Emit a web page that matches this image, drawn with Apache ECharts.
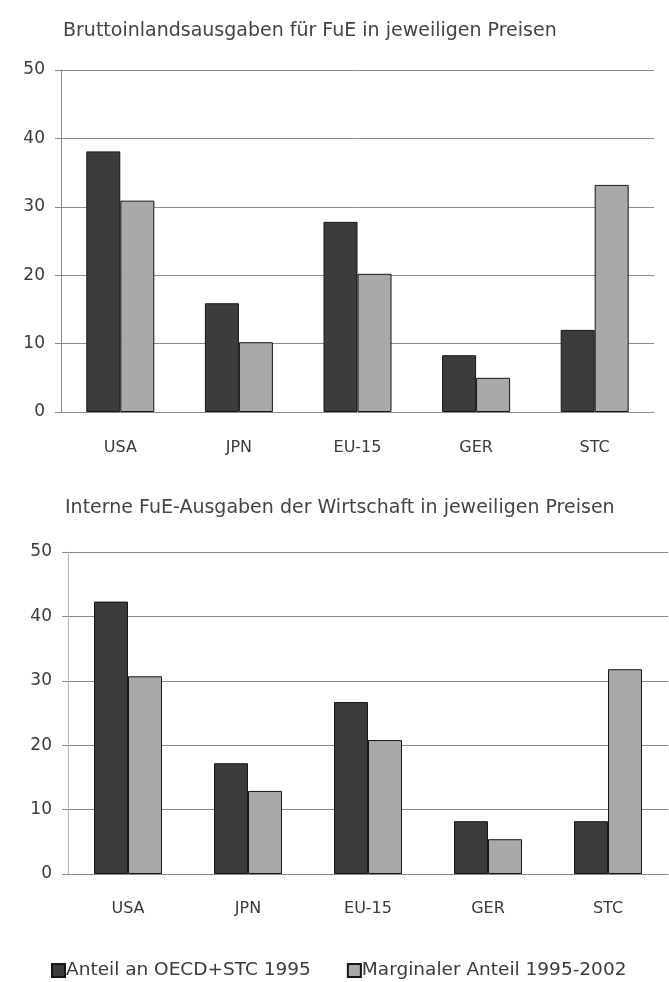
<!DOCTYPE html>
<html>
<head>
<meta charset="utf-8">
<script src="https://cdn.jsdelivr.net/npm/echarts@6/dist/echarts.min.js"></script>
<style>
html,body{margin:0;padding:0;background:#fff;}
#c{width:669px;height:982px;}
</style>
</head>
<body>
<div id="c"></div>
<script>
const categories = ['USA', 'JPN', 'EU-15', 'GER', 'STC'];
const titleTop = 'Bruttoinlandsausgaben für FuE in jeweiligen Preisen';
const titleBottom = 'Interne FuE-Ausgaben der Wirtschaft in jeweiligen Preisen';
const seriesNames = ['Anteil an OECD+STC 1995', 'Marginaler Anteil 1995-2002'];
const topShare1995 = [38.1, 15.9, 27.8, 8.3, 12.0];
const topMarginal = [30.9, 10.2, 20.2, 5.0, 33.2];
const bottomShare1995 = [42.3, 17.2, 26.7, 8.2, 8.2];
const bottomMarginal = [30.7, 12.9, 20.8, 5.4, 31.8];
const yTicksMin = 0, yTicksMax = 50, yTicksStep = 10;

const FONT = '"DejaVu Sans", "Liberation Sans", Arial, sans-serif';
const TXT = '#3a3a3a';
const DARK = '#3c3c3c';
const LIGHT = '#a9a9a9';
const GRIDC = '#8a8a8a';

function xAxis(gi, margin) {
  return {
    type: 'category', gridIndex: gi, data: categories,
    axisLine: { show: true, lineStyle: { color: GRIDC, width: 1 } },
    axisTick: { show: false },
    axisLabel: { color: TXT, fontFamily: FONT, fontSize: 16, margin: margin }
  };
}
function yAxis(gi, lineColor) {
  return {
    type: 'value', gridIndex: gi, min: yTicksMin, max: yTicksMax, interval: yTicksStep,
    axisLine: { show: true, lineStyle: { color: lineColor, width: 1 } },
    axisTick: { show: true, length: 6, lineStyle: { color: GRIDC } },
    splitLine: { show: true, lineStyle: { color: GRIDC, width: 1 } },
    axisLabel: { color: TXT, fontFamily: FONT, fontSize: 17, margin: 16 }
  };
}
function bar(name, data, gi, color) {
  return {
    name: name, type: 'bar', xAxisIndex: gi, yAxisIndex: gi, data: data,
    barWidth: 34, barGap: '0%',
    itemStyle: { color: color, borderColor: '#151515', borderWidth: 1 },
    animation: false
  };
}

const chart = echarts.init(document.getElementById('c'), null, { renderer: 'canvas' });
chart.setOption({
  backgroundColor: '#fff',
  animation: false,
  title: [
    { text: titleTop, left: 58, top: 17, textStyle: { color: '#444', fontFamily: FONT, fontSize: 19, fontWeight: 'normal' } },
    { text: titleBottom, left: 60, top: 494, textStyle: { color: '#444', fontFamily: FONT, fontSize: 19, fontWeight: 'normal' } }
  ],
  legend: {
    top: 956, left: 46,
    itemWidth: 13, itemHeight: 13, itemGap: 36,
    icon: 'rect',
    textStyle: { color: TXT, fontFamily: FONT, fontSize: 18.5, padding: [0, 0, 0, -4] },
    data: seriesNames
  },
  grid: [
    { left: 61, right: 15, top: 70, bottom: 570, containLabel: false },
    { left: 68, right: 1, top: 552, bottom: 108, containLabel: false }
  ],
  xAxis: [xAxis(0, 28), xAxis(1, 27)],
  yAxis: [yAxis(0, '#8a8a8a'), yAxis(1, '#b5b5b5')],
  series: [
    bar(seriesNames[0], topShare1995, 0, DARK),
    bar(seriesNames[1], topMarginal, 0, LIGHT),
    bar(seriesNames[0], bottomShare1995, 1, DARK),
    bar(seriesNames[1], bottomMarginal, 1, LIGHT)
  ]
});
</script>
</body>
</html>
